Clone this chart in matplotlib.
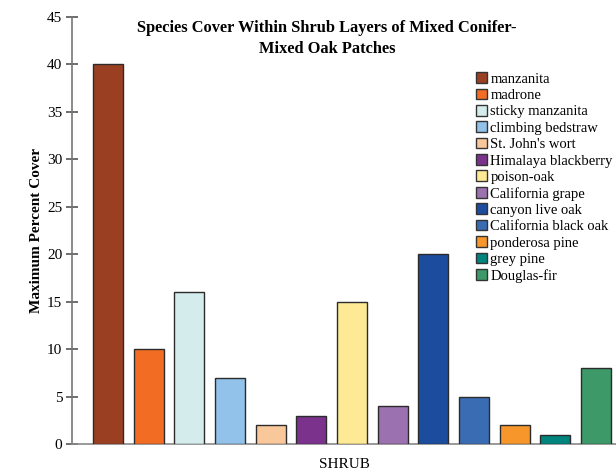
import matplotlib.pyplot as plt
from matplotlib.patches import Patch

species = [
    "manzanita", "madrone", "sticky manzanita", "climbing bedstraw",
    "St. John's wort", "Himalaya blackberry", "poison-oak", "California grape",
    "canyon live oak", "California black oak", "ponderosa pine", "grey pine",
    "Douglas-fir",
]
max_cover = [40, 10, 16, 7, 2, 3, 15, 4, 20, 5, 2, 1, 8]
colors = [
    "#9b3f22", "#f26d23", "#d4ecec", "#92c1e9", "#f9c89a", "#7b328c",
    "#feea94", "#9b71af", "#1b4c9e", "#3a6cb4", "#f7962b", "#00857e",
    "#3d9a68",
]

plt.rcParams["font.family"] = ["Liberation Serif", "DejaVu Serif"]

fig = plt.figure(figsize=(6.16, 4.71), dpi=100)
ax = fig.add_axes([0.117, 0.0573, 0.883, 0.9066])

x = list(range(len(species)))
ax.bar(x, max_cover, width=0.74, color=colors, edgecolor="#2b2b2b", linewidth=1.0, zorder=3)

ax.set_xlim(-0.885, 12.49)
ax.set_ylim(0, 45)
ax.set_yticks(range(0, 46, 5))
ax.set_xticks([])
for side in ("top", "right"):
    ax.spines[side].set_visible(False)
ax.spines["left"].set_color("#777777")
ax.spines["bottom"].set_color("#888888")
ax.spines["left"].set_linewidth(1.2)
ax.spines["bottom"].set_linewidth(1.2)
ax.tick_params(axis="y", direction="inout", length=8, width=1.2, color="#555555",
               labelsize=11, pad=3)

ax.set_ylabel("Maximum Percent Cover", fontsize=11, fontweight="bold", labelpad=3)
ax.set_xlabel("SHRUB", fontsize=11, labelpad=10)

fig.text(0.531, 0.958, "Species Cover Within Shrub Layers of Mixed Conifer-\nMixed Oak Patches",
         ha="center", va="top", fontsize=11.8, fontweight="bold", linespacing=1.45)

handles = [Patch(facecolor=c, edgecolor="#333333", label=s) for s, c in zip(species, colors)]
ax.legend(handles=handles, loc="upper left", bbox_to_anchor=(0.7315, 0.884),
          frameon=False, fontsize=10.5, handlelength=0.75, handleheight=0.75,
          handletextpad=0.25, labelspacing=0.2, borderaxespad=0)

fig.savefig("out.png", dpi=100)
